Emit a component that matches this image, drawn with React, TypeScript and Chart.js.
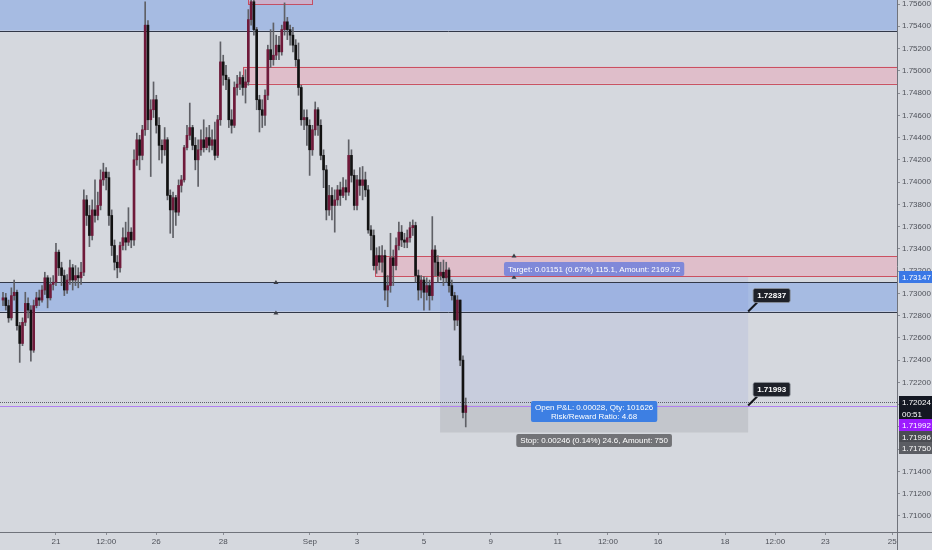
import React, { useEffect, useRef } from 'react';
import { Chart, registerables } from 'chart.js';

Chart.register(...registerables);

// ---- candle data (2-hour bars, bar index on x) ----
const firstOpen = 1.7294;
const closes = [
  1.7296,1.7289,1.7278,1.7298,1.7301,1.7271,1.7255,1.7274,1.7291,1.7285,
  1.7249,1.7289,1.7296,1.7294,1.7303,1.7314,1.7296,1.7308,1.7310,1.7337,
  1.7323,1.7316,1.7303,1.7312,1.7323,1.7312,1.7316,1.7314,1.7319,1.7384,
  1.7370,1.7352,1.7375,1.7370,1.7379,1.7402,1.7409,1.7404,1.7370,1.7343,
  1.7328,1.7323,1.7343,1.7350,1.7346,1.7355,1.7348,1.7420,1.7438,1.7424,
  1.7447,1.7541,1.7456,1.7465,1.7474,1.7451,1.7433,1.7429,1.7438,1.7388,
  1.7375,1.7386,1.7373,1.7397,1.7402,1.7431,1.7442,1.7449,1.7433,1.7420,
  1.7429,1.7438,1.7431,1.7440,1.7433,1.7438,1.7424,1.7456,1.7508,1.7496,
  1.7492,1.7456,1.7451,1.7485,1.7488,1.7494,1.7485,1.7490,1.7546,1.7562,
  1.7537,1.7474,1.7465,1.7460,1.7478,1.7519,1.7510,1.7514,1.7523,1.7517,
  1.7537,1.7544,1.7537,1.7532,1.7523,1.7510,1.7485,1.7456,1.7458,1.7451,
  1.7429,1.7447,1.7465,1.7451,1.7424,1.7411,1.7375,1.7388,1.7379,1.7384,
  1.7393,1.7388,1.7395,1.7391,1.7424,1.7406,1.7379,1.7402,1.7397,1.7402,
  1.7393,1.7357,1.7352,1.7325,1.7334,1.7328,1.7334,1.7303,1.7307,1.7332,
  1.7325,1.7343,1.7355,1.7348,1.7346,1.7350,1.7359,1.7361,1.7316,1.7303,
  1.7312,1.7301,1.7307,1.7298,1.7339,1.7328,1.7316,1.7319,1.7314,1.7321,
  1.7307,1.7298,1.7276,1.7294,1.7240,1.7193,1.71992,
];
const highs = [
  1.7301,1.7300,1.7294,1.7305,1.7312,1.7303,1.7274,1.7278,1.7301,1.7296,
  1.7289,1.7294,1.7301,1.7303,1.7307,1.7319,1.7316,1.7314,1.7316,1.7345,
  1.7339,1.7328,1.7321,1.7317,1.7330,1.7326,1.7325,1.7323,1.7328,1.7393,
  1.7388,1.7379,1.7384,1.7402,1.7391,1.7411,1.7417,1.7413,1.7409,1.7375,
  1.7348,1.7334,1.7346,1.7359,1.7364,1.7377,1.7359,1.7429,1.7444,1.7442,
  1.7451,1.7562,1.7545,1.7474,1.7490,1.7478,1.7458,1.7438,1.7449,1.7440,
  1.7393,1.7391,1.7388,1.7402,1.7406,1.7433,1.7451,1.7471,1.7451,1.7440,
  1.7438,1.7447,1.7456,1.7449,1.7451,1.7447,1.7454,1.7460,1.7526,1.7514,
  1.7505,1.7494,1.7465,1.7490,1.7496,1.7499,1.7496,1.7501,1.7555,1.7569,
  1.7564,1.7539,1.7478,1.7474,1.7483,1.7523,1.7537,1.7543,1.7532,1.7531,
  1.7541,1.7561,1.7548,1.7541,1.7539,1.7528,1.7525,1.7487,1.7465,1.7465,
  1.7456,1.7451,1.7472,1.7467,1.7456,1.7429,1.7415,1.7397,1.7395,1.7393,
  1.7397,1.7400,1.7404,1.7402,1.7438,1.7429,1.7411,1.7406,1.7413,1.7414,
  1.7409,1.7397,1.7361,1.7357,1.7341,1.7342,1.7343,1.7339,1.7316,1.7354,
  1.7339,1.7350,1.7364,1.7361,1.7354,1.7357,1.7364,1.7366,1.7364,1.7321,
  1.7316,1.7315,1.7314,1.7312,1.7369,1.7343,1.7334,1.7328,1.7330,1.7328,
  1.7323,1.7312,1.7301,1.7298,1.7294,1.7244,1.7206,
];
const lows = [
  1.7289,1.7285,1.7274,1.7276,1.7294,1.7267,1.7238,1.7253,1.7271,1.7278,
  1.7239,1.7247,1.7287,1.7289,1.7292,1.7299,1.7287,1.7294,1.7303,1.7307,
  1.7316,1.7307,1.7298,1.7300,1.7308,1.7303,1.7307,1.7305,1.7308,1.7316,
  1.7361,1.7342,1.7348,1.7364,1.7366,1.7375,1.7397,1.7393,1.7361,1.7334,
  1.7321,1.7314,1.7319,1.7339,1.7339,1.7343,1.7341,1.7343,1.7415,1.7411,
  1.7420,1.7442,1.7447,1.7405,1.7458,1.7444,1.7420,1.7417,1.7424,1.7384,
  1.7354,1.7350,1.7361,1.7370,1.7391,1.7400,1.7429,1.7438,1.7429,1.7411,
  1.7396,1.7424,1.7427,1.7429,1.7427,1.7429,1.7420,1.7422,1.7451,1.7487,
  1.7483,1.7449,1.7444,1.7449,1.7478,1.7483,1.7478,1.7471,1.7487,1.7541,
  1.7532,1.7465,1.7445,1.7449,1.7451,1.7474,1.7503,1.7505,1.7510,1.7510,
  1.7514,1.7532,1.7528,1.7523,1.7517,1.7504,1.7478,1.7451,1.7447,1.7433,
  1.7406,1.7424,1.7442,1.7442,1.7420,1.7395,1.7366,1.7370,1.7366,1.7355,
  1.7379,1.7379,1.7386,1.7384,1.7388,1.7400,1.7375,1.7375,1.7388,1.7384,
  1.7387,1.7354,1.7339,1.7321,1.7318,1.7321,1.7319,1.7294,1.7288,1.7301,
  1.7307,1.7321,1.7339,1.7342,1.7341,1.7341,1.7346,1.7352,1.7310,1.7294,
  1.7296,1.7285,1.7294,1.7285,1.7294,1.7316,1.7310,1.7312,1.7307,1.7310,
  1.7301,1.7294,1.7267,1.7271,1.7235,1.7188,1.7180,
];

// ---- axes ----
const priceTicks = [
  1.710, 1.712, 1.714, 1.716, 1.718, 1.720, 1.722, 1.724, 1.726, 1.728, 1.730, 1.732,
  1.734, 1.736, 1.738, 1.740, 1.742, 1.744, 1.746, 1.748, 1.750, 1.752, 1.754, 1.756,
];
const priceMin = 1.70856;
const priceMax = 1.75636;
const barMin = -1.076;
const barMax = 320.7;
const timeTickLabels = ['21', '12:00', '26', '28', 'Sep', '3', '5', '9', '11', '12:00', '16', '18', '12:00', '23', '25'];
const timeTickBars = [19, 37, 55, 79, 110.1, 127, 151, 175, 199, 217, 235, 259, 277, 295, 319];

// ---- drawings (price levels / bar positions) ----
const topBlueZone = [1.7600, 1.75361];
const midBlueZone = [1.73102, 1.72837];
const upperRedZone = [1.75037, 1.74884];
const upperRedZoneStartBar = 86.1;
const topRedBox = [1.7580, 1.75600];
const topRedBoxBars = [87.9, 110.9];
const lowerRedZone = [1.73332, 1.73150];
const lowerRedZoneStartBar = 133.5;
const zoneAnchorBars = [97.9, 183.3];
const entryPrice = 1.71996;
const targetPrice = 1.73147;
const stopPrice = 1.71750;
const positionBars = [156.8, 267.3];
const lastPrice = 1.72024;
const bidPrice = 1.71992;
const calloutPrices = [1.72837, 1.71993];
const calloutTexts = ['1.72837', '1.71993'];
const targetText = 'Target: 0.01151 (0.67%) 115.1, Amount: 2169.72';
const pnlTexts = ['Open P&L: 0.00028, Qty: 101626', 'Risk/Reward Ratio: 4.68'];
const stopText = 'Stop: 0.00246 (0.14%) 24.6, Amount: 750';
const stackedAxisTexts = ['1.72024', '00:51', '1.71992', '1.71996', '1.71750'];
const stackedAxisColors = ['#131722', '#131722', '#9c1bff', '#4a4c52', '#5b5d63'];
const targetAxisText = '1.73147';

// ---- styles ----
const BG = '#d5d8de';
const ZONE_BLUE = '#a6bbe2';
const ZONE_RED = 'rgba(232,170,185,0.55)';
const RED_LINE = 'rgba(200,60,78,0.85)';
const DARK_LINE = '#323848';
const UP = '#6f1a3a';
const DOWN = '#121212';
const WICK = '#5f6066';
const TICK_FONT = '"Liberation Sans", Arial, sans-serif';
const LABEL_FONT = '8px "Liberation Sans", Arial, sans-serif';

const opens = closes.map((c, i) => (i === 0 ? firstOpen : closes[i - 1]));

function rr(ctx: CanvasRenderingContext2D, x: number, y: number, w: number, h: number, r: number) {
  ctx.beginPath();
  ctx.moveTo(x + r, y);
  ctx.lineTo(x + w - r, y);
  ctx.quadraticCurveTo(x + w, y, x + w, y + r);
  ctx.lineTo(x + w, y + h - r);
  ctx.quadraticCurveTo(x + w, y + h, x + w - r, y + h);
  ctx.lineTo(x + r, y + h);
  ctx.quadraticCurveTo(x, y + h, x, y + h - r);
  ctx.lineTo(x, y + r);
  ctx.quadraticCurveTo(x, y, x + r, y);
  ctx.closePath();
}

const overlayPlugin = {
  id: 'tvOverlay',
  beforeDraw(chart: any) {
    const { ctx, width, height } = chart;
    ctx.save();
    ctx.fillStyle = BG;
    ctx.fillRect(0, 0, width, height);
    ctx.restore();
  },
  beforeDatasetsDraw(chart: any) {
    const { ctx, chartArea: a } = chart;
    const X = (v: number) => chart.scales.x.getPixelForValue(v);
    const Y = (v: number) => chart.scales.y.getPixelForValue(v);
    const hline = (y: number, x0: number, x1: number, color: string) => {
      const yy = Math.round(y) + 0.5;
      ctx.strokeStyle = color;
      ctx.lineWidth = 1;
      ctx.beginPath();
      ctx.moveTo(x0, yy);
      ctx.lineTo(x1, yy);
      ctx.stroke();
    };
    ctx.save();
    ctx.beginPath();
    ctx.rect(a.left, a.top, a.right - a.left, a.bottom - a.top);
    ctx.clip();

    // blue zones
    ctx.fillStyle = ZONE_BLUE;
    ctx.fillRect(a.left, Y(topBlueZone[0]), a.right - a.left, Y(topBlueZone[1]) - Y(topBlueZone[0]));
    ctx.fillRect(a.left, Y(midBlueZone[0]), a.right - a.left, Y(midBlueZone[1]) - Y(midBlueZone[0]));

    // red zones
    const redRect = (x0: number, y0: number, x1: number, y1: number) => {
      ctx.fillStyle = ZONE_RED;
      ctx.fillRect(x0, y0, x1 - x0, y1 - y0);
      ctx.strokeStyle = RED_LINE;
      ctx.lineWidth = 1;
      ctx.strokeRect(Math.round(x0) + 0.5, Math.round(y0) + 0.5, Math.round(x1 - x0), Math.round(y1 - y0));
    };
    redRect(X(upperRedZoneStartBar), Y(upperRedZone[0]), a.right + 10, Y(upperRedZone[1]));
    redRect(X(topRedBoxBars[0]), Y(topRedBox[0]), X(topRedBoxBars[1]), Y(topRedBox[1]));
    redRect(X(lowerRedZoneStartBar), Y(lowerRedZone[0]), a.right + 10, Y(lowerRedZone[1]));

    // position tool
    const px0 = X(positionBars[0]);
    const px1 = X(positionBars[1]);
    ctx.fillStyle = 'rgba(90,105,215,0.10)';
    ctx.fillRect(px0, Y(targetPrice), px1 - px0, Y(entryPrice) - Y(targetPrice));
    ctx.fillStyle = 'rgba(40,40,50,0.10)';
    ctx.fillRect(px0, Y(entryPrice), px1 - px0, Y(stopPrice) - Y(entryPrice));

    // zone lines
    hline(Y(topBlueZone[1]), a.left, a.right, DARK_LINE);
    hline(Y(midBlueZone[0]), a.left, a.right, DARK_LINE);
    hline(Y(midBlueZone[1]), a.left, a.right, DARK_LINE);

    // last price dotted line
    ctx.setLineDash([1, 1]);
    hline(Y(lastPrice), a.left, a.right, '#5d6068');
    ctx.setLineDash([]);
    // bid line
    hline(Y(bidPrice), a.left, a.right, '#b080f0');
    ctx.restore();
  },
  afterDatasetsDraw(chart: any) {
    const { ctx, chartArea: a } = chart;
    const X = (v: number) => chart.scales.x.getPixelForValue(v);
    const Y = (v: number) => chart.scales.y.getPixelForValue(v);
    ctx.save();
    ctx.beginPath();
    ctx.rect(a.left, a.top, a.right - a.left, a.bottom - a.top);
    ctx.clip();

    // anchor markers
    const tri = (x: number, y: number) => {
      ctx.fillStyle = '#3a3d45';
      ctx.beginPath();
      ctx.moveTo(x, y - 3);
      ctx.lineTo(x + 2.5, y + 1);
      ctx.lineTo(x - 2.5, y + 1);
      ctx.closePath();
      ctx.fill();
    };
    tri(X(zoneAnchorBars[0]), Y(midBlueZone[0]) + 1);
    tri(X(zoneAnchorBars[0]), Y(midBlueZone[1]) + 2);
    tri(X(zoneAnchorBars[1]), Y(lowerRedZone[0]) + 0);
    tri(X(zoneAnchorBars[1]), Y(lowerRedZone[1]) + 1);

    const cx = (X(positionBars[0]) + X(positionBars[1])) / 2;
    ctx.font = LABEL_FONT;
    ctx.textAlign = 'center';
    ctx.textBaseline = 'middle';

    // target label
    {
      const w = ctx.measureText(targetText).width + 8;
      const yc = Y(targetPrice) - 8;
      ctx.fillStyle = 'rgba(112,128,220,0.85)';
      rr(ctx, cx - w / 2, yc - 7, w, 14, 2);
      ctx.fill();
      ctx.fillStyle = '#ffffff';
      ctx.fillText(targetText, cx, yc + 0.5);
    }
    // open P&L label
    {
      const w = Math.max(...pnlTexts.map((t) => ctx.measureText(t).width)) + 8;
      const yc = Y(entryPrice) + 6.5;
      ctx.fillStyle = '#3d7fe3';
      rr(ctx, cx - w / 2, yc - 10.5, w, 21, 2);
      ctx.fill();
      ctx.fillStyle = '#ffffff';
      ctx.fillText(pnlTexts[0], cx, yc - 4);
      ctx.fillText(pnlTexts[1], cx, yc + 5);
    }
    // stop label
    {
      const w = ctx.measureText(stopText).width + 8;
      const yc = Y(stopPrice) + 8;
      ctx.fillStyle = 'rgba(105,106,110,0.92)';
      rr(ctx, cx - w / 2, yc - 6.5, w, 13, 2);
      ctx.fill();
      ctx.fillStyle = '#ffffff';
      ctx.fillText(stopText, cx, yc + 0.5);
    }
    ctx.restore();

    // callouts
    ctx.save();
    calloutPrices.forEach((p, i) => {
      const ax = X(positionBars[1]);
      const ay = Y(p);
      const bx = ax + 5;
      const by = ay - 23;
      const bw = 37;
      const bh = 14;
      ctx.strokeStyle = '#15171c';
      ctx.lineWidth = 2;
      ctx.beginPath();
      ctx.moveTo(ax, ay);
      ctx.lineTo(bx + 4, by + bh);
      ctx.stroke();
      ctx.fillStyle = '#1e2129';
      rr(ctx, bx, by, bw, bh, 2);
      ctx.fill();
      ctx.strokeStyle = '#8c9099';
      ctx.lineWidth = 0.8;
      ctx.stroke();
      ctx.fillStyle = '#ffffff';
      ctx.font = 'bold 8px "Liberation Sans", Arial, sans-serif';
      ctx.textAlign = 'center';
      ctx.textBaseline = 'middle';
      ctx.fillText(calloutTexts[i], bx + bw / 2, by + bh / 2 + 0.5);
    });
    ctx.restore();
  },
  afterDraw(chart: any) {
    const { ctx, chartArea: a, width, height } = chart;
    const Y = (v: number) => chart.scales.y.getPixelForValue(v);
    ctx.save();
    // axis corner lines
    ctx.strokeStyle = '#70737b';
    ctx.lineWidth = 1;
    ctx.beginPath();
    ctx.moveTo(Math.round(a.right) + 0.5, a.bottom);
    ctx.lineTo(Math.round(a.right) + 0.5, height);
    ctx.moveTo(a.right, Math.round(a.bottom) + 0.5);
    ctx.lineTo(width, Math.round(a.bottom) + 0.5);
    ctx.stroke();

    const axisLabel = (text: string, yc: number, bg: string) => {
      const x0 = Math.round(a.right) + 2;
      ctx.fillStyle = bg;
      ctx.fillRect(x0, Math.round(yc - 6), width - x0, 12);
      ctx.fillStyle = '#ffffff';
      ctx.font = '8px ' + TICK_FONT;
      ctx.textAlign = 'left';
      ctx.textBaseline = 'middle';
      ctx.fillText(text, x0 + 3, Math.round(yc - 6) + 6.5);
    };
    axisLabel(targetAxisText, Y(targetPrice), '#3a78e6');
    const y0 = Y(lastPrice);
    stackedAxisTexts.forEach((t, i) => axisLabel(t, y0 + i * 11.6, stackedAxisColors[i]));
    ctx.restore();
  },
};

export default function App() {
  const ref = useRef<HTMLCanvasElement | null>(null);
  useEffect(() => {
    if (!ref.current) return;
    const bodies = closes.map((c, i) => ({ x: i, y: [opens[i], c] }));
    const wicks = closes.map((_, i) => ({ x: i, y: [lows[i], highs[i]] }));
    const chart = new Chart(ref.current, {
      type: 'bar',
      data: {
        datasets: [
          {
            label: 'bodies',
            data: bodies as any,
            backgroundColor: closes.map((c, i) => (c >= opens[i] ? UP : DOWN)),
            borderWidth: 0,
            barThickness: 2,
            minBarLength: 1,
            grouped: false,
            order: 0,
          } as any,
          {
            label: 'wicks',
            data: wicks as any,
            backgroundColor: WICK,
            borderWidth: 0,
            barThickness: 1,
            grouped: false,
            order: 1,
          } as any,
        ],
      },
      options: {
        animation: false,
        responsive: false,
        events: [],
        layout: { padding: 0 },
        plugins: { legend: { display: false }, tooltip: { enabled: false } },
        scales: {
          x: {
            type: 'linear',
            position: 'bottom',
            min: barMin,
            max: barMax,
            offset: false,
            grid: { drawOnChartArea: false, drawTicks: true, tickLength: 3, color: '#8a8d95', offset: false },
            border: { display: true, color: '#70737b' },
            afterBuildTicks: (scale: any) => {
              scale.ticks = timeTickBars.map((v) => ({ value: v }));
            },
            afterFit: (scale: any) => {
              scale.height = 18;
              scale.paddingLeft = 0;
              scale.paddingRight = 0;
            },
            ticks: {
              autoSkip: false,
              maxRotation: 0,
              minRotation: 0,
              padding: 2,
              color: '#4e5159',
              font: { family: TICK_FONT, size: 8 },
              callback: (_v: any, i: number) => timeTickLabels[i],
            },
          },
          y: {
            type: 'linear',
            position: 'right',
            min: priceMin,
            max: priceMax,
            beginAtZero: false,
            grid: { drawOnChartArea: false, drawTicks: true, tickLength: 3, color: '#8a8d95' },
            border: { display: true, color: '#70737b' },
            afterBuildTicks: (scale: any) => {
              scale.ticks = priceTicks.map((v) => ({ value: v }));
            },
            afterFit: (scale: any) => {
              scale.width = 35;
              scale.paddingTop = 0;
              scale.paddingBottom = 0;
            },
            ticks: {
              padding: 2,
              color: '#4e5159',
              font: { family: TICK_FONT, size: 8 },
              callback: (v: any) => Number(v).toFixed(5),
            },
          },
        },
      },
      plugins: [overlayPlugin],
    } as any);
    return () => chart.destroy();
  }, []);
  return (
    <div style={{ position: 'fixed', left: 0, top: 0, width: 932, height: 550 }}>
      <canvas ref={ref} width={932} height={550} style={{ display: 'block' }} />
    </div>
  );
}
